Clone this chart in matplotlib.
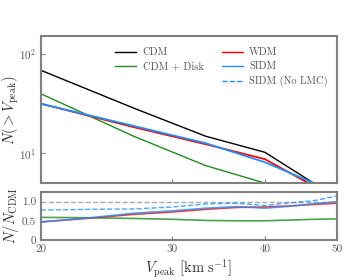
import numpy as np
import matplotlib
matplotlib.use('Agg')
import matplotlib.pyplot as plt
from matplotlib.ticker import FixedLocator, NullLocator, NullFormatter
from matplotlib.lines import Line2D

plt.rcParams['font.family'] = 'serif'
plt.rcParams['font.serif'] = ['cmr10']
plt.rcParams['mathtext.fontset'] = 'cm'
plt.rcParams['axes.formatter.use_mathtext'] = True

# cumulative counts, top panel
vpeak = [20, 26.7, 33.3, 40, 46.7, 53.3]
n_cdm = [68, 28.2, 14.8, 10.2, 4.9, 2.5]
n_disk = [39.5, 14.7, 7.5, 5.0, 2.7, 1.4]
n_wdm = [31.4, 18.2, 12.3, 8.7, 4.6, 2.4]
n_sidm = [31.4, 18.7, 12.6, 8.1, 4.95, 2.5]

# ratios to CDM, bottom panel
v_ratio = [20, 23.3, 26.7, 30, 33.3, 36.7, 40, 43.3, 46.7, 50]
r_disk = [0.59, 0.58, 0.56, 0.54, 0.51, 0.50, 0.50, 0.52, 0.54, 0.55]
r_wdm = [0.47, 0.57, 0.67, 0.73, 0.80, 0.85, 0.86, 0.89, 0.93, 0.96]
r_sidm = [0.47, 0.58, 0.70, 0.76, 0.83, 0.87, 0.83, 0.88, 0.95, 1.00]
r_nolmc = [0.78, 0.80, 0.81, 0.86, 0.94, 0.96, 0.90, 0.97, 1.03, 1.15]

c_green = '#228B22'
c_red = 'red'
c_blue = '#1E90FF'
spine_c = '#808080'

fig = plt.figure(figsize=(3.5, 2.8), dpi=100)
ax = fig.add_axes([0.117, 0.346, 0.846, 0.525])
axr = fig.add_axes([0.117, 0.143, 0.846, 0.171])

ax.plot(vpeak, n_cdm, color='black', lw=1.0)
ax.plot(vpeak, n_disk, color=c_green, lw=1.0)
ax.plot(vpeak, n_wdm, color=c_red, lw=1.3)
ax.plot(vpeak, n_sidm, color=c_blue, lw=1.3)

axr.axhline(1.0, color='#aaaaaa', ls='--', lw=1.0)
axr.plot(v_ratio, r_disk, color=c_green, lw=1.2, alpha=0.8)
axr.plot(v_ratio, r_wdm, color=c_red, lw=1.2, alpha=0.8)
axr.plot(v_ratio, r_sidm, color=c_blue, lw=1.2, alpha=0.8)
axr.plot(v_ratio, r_nolmc, color=c_blue, lw=1.0, ls='--', alpha=0.8)

for a in (ax, axr):
    a.set_xscale('log')
    a.set_xlim(20, 50)
    a.xaxis.set_major_locator(FixedLocator([20, 30, 40, 50]))
    a.xaxis.set_minor_locator(NullLocator())
    for s in a.spines.values():
        s.set_color(spine_c)
        s.set_linewidth(1.5)
    a.tick_params(direction='in', colors=spine_c, labelcolor='#555555', labelsize=8,
                  top=False, right=False, length=3)
    a.tick_params(which='minor', length=0)

ax.set_yscale('log')
ax.set_ylim(5, 150)
ax.yaxis.set_minor_locator(NullLocator())
ax.xaxis.set_major_formatter(NullFormatter())
ax.set_ylabel(r'$N(>V_{\rm peak})$', fontsize=10.5, color='#333333')
ax.yaxis.set_label_coords(-0.068, 0.5)

axr.set_ylim(0, 1.25)
axr.set_yticks([0, 0.5, 1.0])
axr.set_yticklabels(['0', '0.5', '1.0'])
axr.xaxis.set_major_formatter(plt.FuncFormatter(lambda x, p: '%d' % x))
axr.set_ylabel(r'$N/N_{\rm CDM}$', fontsize=10.5, color='#333333')
axr.yaxis.set_label_coords(-0.068, 0.5)
axr.set_xlabel(r'$V_{\rm peak}\ [\rm km\ s^{-1}]$', fontsize=10.5, color='#333333',
               labelpad=2)

h1 = [Line2D([], [], color='black', lw=1.0), Line2D([], [], color=c_green, lw=1.0)]
leg1 = ax.legend(h1, ['CDM', 'CDM + Disk'], loc='upper left', bbox_to_anchor=(0.22, 0.985),
                 frameon=False, fontsize=7.5, handlelength=2.0, handletextpad=0.6,
                 labelspacing=0.45)
for t in leg1.get_texts():
    t.set_color('#555555')
ax.add_artist(leg1)
h2 = [Line2D([], [], color=c_red, lw=1.0), Line2D([], [], color=c_blue, lw=1.0),
      Line2D([], [], color=c_blue, lw=1.0, ls='--')]
leg2 = ax.legend(h2, ['WDM', 'SIDM', 'SIDM (No LMC)'], loc='upper left',
                 bbox_to_anchor=(0.58, 0.985), frameon=False, fontsize=7.5,
                 handlelength=2.0, handletextpad=0.6, labelspacing=0.45)
for t in leg2.get_texts():
    t.set_color('#555555')

fig.savefig('out.png', dpi=100)
